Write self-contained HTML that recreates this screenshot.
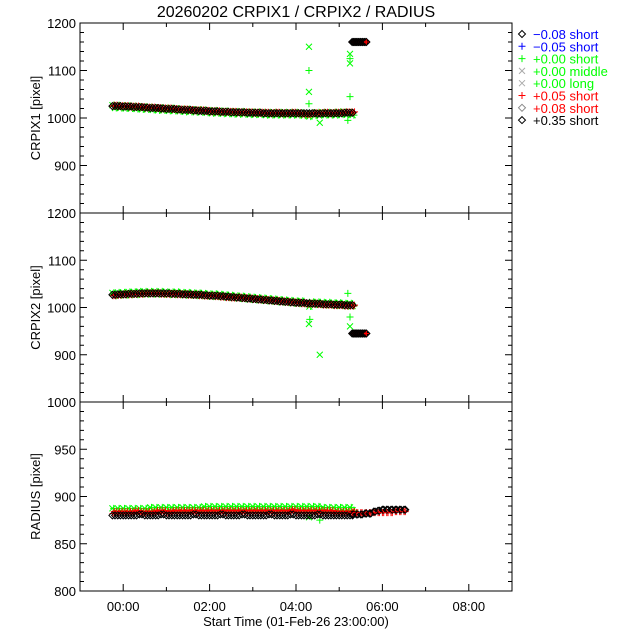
<!DOCTYPE html>
<html><head><meta charset="utf-8"><style>
body{margin:0;background:#fff;}
svg{display:block;font-family:"Liberation Sans",sans-serif;}
</style></head><body>
<svg id="chart" width="640" height="640" viewBox="0 0 640 640">
<rect width="640" height="640" fill="#fff"/>
<text x="296" y="17" font-size="16" text-anchor="middle">20260202 CRPIX1 / CRPIX2 / RADIUS</text>
<g id="plots"></g>
<g id="legend"></g>
</svg>
<script>
const startHour = -0.25, stepHour = 0.125;
const p1Black = [1025,1025,1024,1024,1023,1023,1022,1021,1021,1020,1019,1019,1018,1017,1017,1016,1015,1015,1014,1014,1013,1013,1012,1012,1012,1011,1011,1011,1010,1010,1010,1010,1010,1010,1010,1010,1010,1010,1009,1010,1010,1010,1010,1011,1011];
const p1Red   = [1026,1025,1025,1024,1024,1023,1022,1022,1021,1020,1020,1019,1018,1018,1017,1016,1016,1015,1014,1014,1013,1013,1013,1012,1012,1012,1011,1011,1011,1010,1011,1010,1010,1011,1010,1009,1008,1010,1010,1011,1010,1011,1011,1012,1012];
const p1Green = [1024,1024,1023,1023,1022,1021,1021,1020,1019,1019,1018,1018,1017,1016,1016,1015,1015,1014,1013,1013,1012,1012,1011,1011,1011,1010,1010,1010,1009,1009,1009,1009,1009,1009,1009,1008,1006,1008,1009,1009,1009,1009,1010,1010,1009];
const p2Black = [1027,1028,1028,1029,1029,1030,1030,1030,1030,1030,1030,1029,1029,1028,1028,1027,1027,1026,1025,1025,1024,1023,1022,1021,1020,1019,1018,1017,1016,1015,1014,1013,1012,1011,1010,1010,1009,1008,1008,1007,1007,1006,1006,1005,1005];
const p2Red   = [1026,1027,1028,1028,1029,1029,1030,1030,1030,1029,1029,1029,1028,1028,1027,1027,1026,1025,1025,1024,1023,1022,1021,1021,1020,1019,1018,1017,1016,1015,1014,1013,1012,1011,1010,1009,1008,1008,1007,1006,1006,1005,1005,1004,1004];
const p2Green = [1028,1029,1029,1030,1030,1031,1031,1031,1031,1031,1030,1030,1030,1029,1029,1028,1028,1027,1026,1026,1025,1024,1023,1022,1021,1020,1019,1018,1017,1016,1015,1014,1013,1012,1011,1011,1005,1009,1009,1008,1008,1007,1007,1006,1006];
const p3Black = [880,880,880,880,880,881,880,880,880,881,880,880,880,880,880,881,880,880,880,880,881,880,880,880,881,880,880,880,880,881,880,880,880,881,880,880,880,880,881,880,880,880,880,880,880];
const p3Red   = [883,883,883,883,884,883,883,883,884,884,883,884,884,884,884,884,884,884,884,884,884,884,884,884,884,884,884,884,884,884,884,884,884,885,884,884,884,884,884,884,884,883,883,883,883];
const p3Green = [886,886,886,886,886,886,886,887,887,887,887,887,887,887,887,887,887,888,888,888,888,888,888,888,888,888,888,888,888,888,888,888,888,888,888,888,888,888,888,887,887,887,887,887,887];
const tailHours = [5.3,5.35,5.4,5.45,5.5,5.55,5.6];
const p1Tail = [1160,1160,1160,1160,1160,1160,1160];
const p2Tail = [945,945,945,945,945,945,945];
const p3TailHours = [5.3,5.4,5.5,5.6,5.7,5.8,5.9,6.0,6.1,6.2,6.3,6.4,6.5];
const p3TailBlack = [881,881,881,882,882,884,885,886,886,886,886,886,886];
const p3TailRed = [883,883,883,883,883,883,883,883,883,883,884,884,884];
const outlierHours1 = [4.3,4.3,4.3,4.3,5.25,5.25,5.25,5.25,4.55,5.2];
const outlierVals1  = [1150,1100,1055,1030,1135,1125,1115,1045,990,995];
const outlierHours2 = [4.3,4.32,4.55,5.2,5.25,5.25];
const outlierVals2  = [965,975,900,1030,960,980];
const outlierHours3 = [4.3,4.55];
const outlierVals3  = [878,875];
const xTickLabels = ["00:00","02:00","04:00","06:00","08:00"];
const xTickHours = [0,2,4,6,8];

const NS="http://www.w3.org/2000/svg";
const X0=80,X1=512,HMIN=-1,HMAX=9;
const xs=h=>X0+(h-HMIN)/(HMAX-HMIN)*(X1-X0);
const panels=[
 {top:23,bot:213,min:800,max:1200,major:100,minor:20,title:"CRPIX1 [pixel]",ticks:[900,1000,1100,1200],name:"crpix1"},
 {top:213,bot:402,min:800,max:1200,major:100,minor:20,title:"CRPIX2 [pixel]",ticks:[900,1000,1100,1200],name:"crpix2"},
 {top:402,bot:591,min:800,max:1000,major:50,minor:10,title:"RADIUS [pixel]",ticks:[800,850,900,950,1000],name:"radius"}];
const plots=document.getElementById('plots');
function mk(tag,attrs,parent){const e=document.createElementNS(NS,tag);for(const k in attrs)e.setAttribute(k,attrs[k]);(parent||plots).appendChild(e);return e;}
function marker(type,x,y,color,g){
 let d;
 if(type==='d')d=`M${x} ${y-3.5}L${x+3.5} ${y}L${x} ${y+3.5}L${x-3.5} ${y}Z`;
 else if(type==='p')d=`M${x-3.5} ${y}H${x+3.5}M${x} ${y-3.5}V${y+3.5}`;
 else d=`M${x-3} ${y-3}L${x+3} ${y+3}M${x-3} ${y+3}L${x+3} ${y-3}`;
 const e=mk('path',{d:d,stroke:color,'stroke-width':1,fill:'none'},g);
 
 
}
const mainData=[[p1Black,p1Red,p1Green],[p2Black,p2Red,p2Green],[p3Black,p3Red,p3Green]];
const tails=[[tailHours,p1Tail,p1Tail],[tailHours,p2Tail,p2Tail],[p3TailHours,p3TailBlack,p3TailRed]];
const outs=[[outlierHours1,outlierVals1],[outlierHours2,outlierVals2],[outlierHours3,outlierVals3]];
const subs=[0,0.03,0.06,0.09];
panels.forEach((p,pi)=>{
 const ys=v=>p.bot-(v-p.min)/(p.max-p.min)*(p.bot-p.top);
 const g=mk('g',{});
 
 
 const fr=mk('rect',{x:X0,y:p.top,width:X1-X0,height:p.bot-p.top,fill:'none',stroke:'#000','stroke-width':1},g);
 
 
 for(let v=p.min;v<=p.max;v+=p.minor){
  const y=ys(v),len=(v-p.min)%p.major===0?7:4;
  mk('path',{d:`M${X0} ${y}h${len}M${X1} ${y}h${-len}`,stroke:'#000'},g);
 }
 for(let h=HMIN;h<=HMAX;h++){
  const x=xs(h),len=h%2===0?7:4;
  mk('path',{d:`M${x} ${p.bot}v${-len}M${x} ${p.top}v${len}`,stroke:'#000'},g);
 }
 p.ticks.forEach(v=>{
  const t=mk('text',{x:76,y:ys(v)+5,'font-size':13,'text-anchor':'end'},g);
  t.textContent=v;
  
  
 });
 const cy=(p.top+p.bot)/2;
 const yt=mk('text',{x:0,y:0,'font-size':13,'text-anchor':'middle',transform:`translate(40 ${cy}) rotate(-90)`},g);
 yt.textContent=p.title;
 
 
 const [bk,rd,gr]=mainData[pi];
 const [th,tb,tr]=tails[pi];
 const [oh,ov]=outs[pi];
 const sp=pi==2?1.5:3;
 gr.forEach((v,i)=>{const h=startHour+i*stepHour;subs.forEach((s,k)=>{marker(k%2?'p':'x',xs(h+s),ys(v+(k<2?sp:-sp)),'#00ff00',g);});});
 oh.forEach((h,i)=>marker(i%2?'p':'x',xs(h),ys(ov[i]),'#00ff00',g));
 rd.forEach((v,i)=>{const h=startHour+i*stepHour;subs.forEach((s,k)=>marker('p',xs(h+s+0.015),ys(v+(k%2?1:-1)),'#ff0000',g));});
 bk.forEach((v,i)=>{const h=startHour+i*stepHour;[0,0.06].forEach(s=>marker('d',xs(h+s),ys(v),'#000',g));});
 th.forEach((h,i)=>{[0,0.03].forEach(s=>{marker('p',xs(h+s),ys(tr[i]),'#ff0000',g);marker('d',xs(h+s),ys(tb[i]),'#000',g);});});
});
xTickHours.forEach((h,i)=>{
 const t=mk('text',{x:xs(h),y:611,'font-size':13,'text-anchor':'middle'});
 t.textContent=xTickLabels[i];
 
 
});
const xt=mk('text',{x:296,y:626,'font-size':13,'text-anchor':'middle'});
xt.textContent="Start Time (01-Feb-26 23:00:00)";



const legLabels=["\u22120.08 short","\u22120.05 short","+0.00 short","+0.00 middle","+0.00 long","+0.05 short","+0.08 short","+0.35 short"];
const legMarks=['d','p','p','x','x','p','d','d'];
const legMarkColors=['#000','#0000ff','#00ff00','#aaaaaa','#aaaaaa','#ff0000','#888888','#000'];
const legTextColors=['#0000ff','#0000ff','#00ff00','#00ff00','#00ff00','#ff0000','#ff0000','#000'];
const leg=document.getElementById('legend');
legLabels.forEach((l,i)=>{
 const y=34+i*12.3;
 const e=mk('g',{},leg);
 
 
 marker(legMarks[i],522,y,legMarkColors[i],e);
 const t=mk('text',{x:533,y:y+5,'font-size':13,fill:legTextColors[i]},e);
 t.textContent=l;
});
</script>
</body></html>
